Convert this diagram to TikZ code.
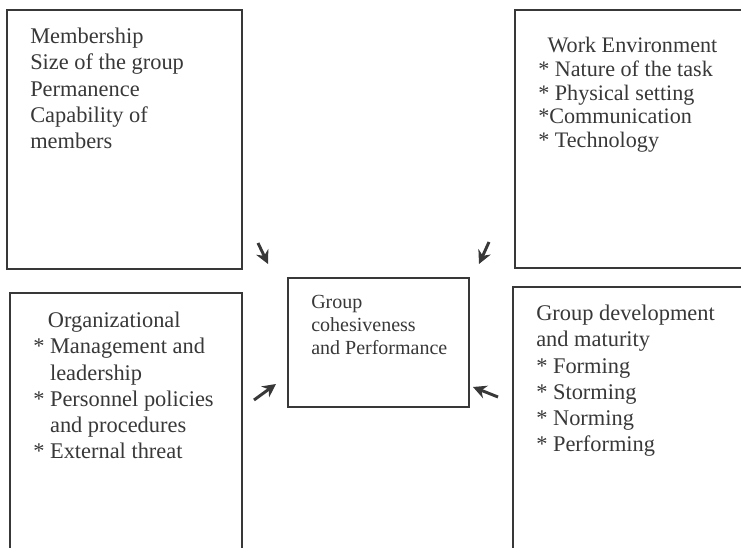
\documentclass[tikz,border=0pt]{standalone}
\usepackage{fontspec}
\setmainfont{Liberation Serif}
\usetikzlibrary{arrows.meta,fit}

\definecolor{ink}{HTML}{383838}

\tikzset{
  box/.style={draw=ink, line width=1.1pt, inner sep=0pt},
  txt/.style={anchor=north west, align=left, inner sep=0pt, text=ink,
              font=\fontsize{16.8}{19.6}\selectfont},
  smalltxt/.style={txt, font=\fontsize{15}{17.4}\selectfont},
  arr/.style={draw=ink, line width=2.2pt, -{Stealth[length=10pt,width=10pt]}}
}

\begin{document}
\begin{tikzpicture}[x=0.75pt, y=-0.75pt]

  \clip (0,0) rectangle (741,548);
  \fill[white] (0,0) rectangle (741,548);

  % membership (top left)
  \node[box, fit={(7,10) (242,269)}] (memb) {};
  \node[txt] (membtxt) at (30,28) {Membership\\Size of the group\\Permanence\\Capability of\\members};

  % work environment (top right)
  \node[box, fit={(515,10) (760,268)}] (work) {};
  \node[txt, font=\fontsize{16.6}{17.8}\selectfont] (worktxt) at (538,37)
    {\hspace{7pt}Work Environment\\* Nature of the task\\* Physical setting\\*Communication\\* Technology};

  % organizational (bottom left)
  \node[box, fit={(10,293) (242,570)}] (org) {};
  \node[txt] (orgtxt) at (33,312)
    {\hspace{11pt}Organizational\\* Management and\\\phantom{* }leadership\\* Personnel policies\\\phantom{* }and procedures\\* External threat};

  % group development (bottom right)
  \node[box, fit={(513,287) (760,570)}] (dev) {};
  \node[txt] (devtxt) at (536,305)
    {Group development\\and maturity\\* Forming\\* Storming\\* Norming\\* Performing};

  % centre
  \node[box, fit={(288,278) (469,407)}] (coh) {};
  \node[smalltxt] (cohtxt) at (311,295) {Group\\cohesiveness\\and Performance};

  % arrows towards the centre
  \coordinate (a1) at (258,243); \coordinate (b1) at (268,264);
  \coordinate (a2) at (489,242); \coordinate (b2) at (479,264);
  \coordinate (a3) at (254,400); \coordinate (b3) at (276,384);
  \coordinate (a4) at (498,397); \coordinate (b4) at (473,387);
  \foreach \i in {1,...,4}
    \draw[arr] (a\i) -- (b\i);

\end{tikzpicture}
\end{document}
